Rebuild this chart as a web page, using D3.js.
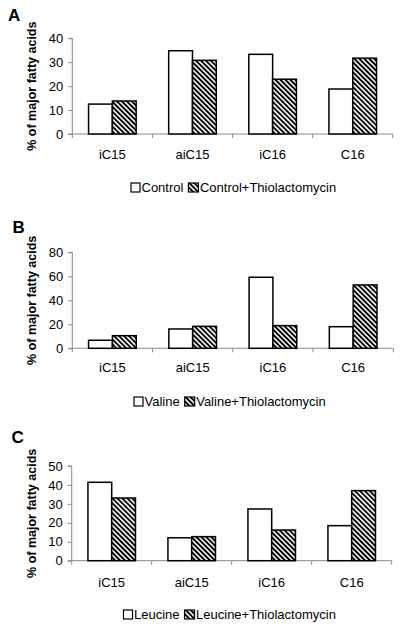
<!DOCTYPE html>
<html>
<head>
<meta charset="utf-8">
<script src="https://cdn.jsdelivr.net/npm/d3@7"></script>
<style>
  html, body { margin: 0; padding: 0; background: #fff; }
  svg { display: block; }
  text { font-family: "Liberation Sans", Arial, sans-serif; fill: #000; }
</style>
</head>
<body>
<svg id="chart" width="400" height="630"></svg>
<script>
// ---- data ----
const categories = ["iC15", "aiC15", "iC16", "C16"];

const panelA_control = [12.5, 34.8, 33.3, 18.8];
const panelA_thio    = [13.8, 30.8, 22.9, 31.7];
const panelA_series  = ["Control", "Control+Thiolactomycin"];
const panelA_ticks   = [0, 10, 20, 30, 40];

const panelB_valine  = [6.7, 16.1, 59.2, 18.0];
const panelB_thio    = [10.5, 18.3, 18.9, 52.8];
const panelB_series  = ["Valine", "Valine+Thiolactomycin"];
const panelB_ticks   = [0, 20, 40, 60, 80];

const panelC_leucine = [41.4, 12.1, 27.3, 18.5];
const panelC_thio    = [33.1, 12.7, 16.2, 37.0];
const panelC_series  = ["Leucine", "Leucine+Thiolactomycin"];
const panelC_ticks   = [0, 10, 20, 30, 40, 50];

const yLabel = "% of major fatty acids";

// ---- layout ----
const panels = [
  { letter: "A", lx: 8,  ly: 20.7, x0: 72.3, x1: 392.8, yBottom: 134,   yTop: 38.3,
    a: panelA_control, b: panelA_thio, names: panelA_series, ticks: panelA_ticks,
    catY: 159, legX: 131, legY: 192 },
  { letter: "B", lx: 12.5, ly: 232.7, x0: 72.3, x1: 393.3, yBottom: 348.3, yTop: 252.3,
    a: panelB_valine, b: panelB_thio, names: panelB_series, ticks: panelB_ticks,
    catY: 372.3, legX: 134, legY: 406 },
  { letter: "C", lx: 11.5, ly: 443, x0: 71.7, x1: 391.7, yBottom: 560.7, yTop: 466,
    a: panelC_leucine, b: panelC_thio, names: panelC_series, ticks: panelC_ticks,
    catY: 586.7, legX: 123.5, legY: 619 }
];

const svg = d3.select("#chart");
const axisColor = "#8a8a8a";

// hatch pattern
const defs = svg.append("defs");
const pat = defs.append("pattern")
  .attr("id", "hatch")
  .attr("patternUnits", "userSpaceOnUse")
  .attr("width", 3.5).attr("height", 3.5)
  .attr("patternTransform", "rotate(-45)");
pat.append("rect").attr("width", 3.5).attr("height", 3.5).attr("fill", "#fff");
pat.append("rect").attr("width", 1.9).attr("height", 3.5).attr("fill", "#000");

panels.forEach(p => {
  const g = svg.append("g");
  const yMax = p.ticks[p.ticks.length - 1];
  const y = d3.scaleLinear().domain([0, yMax]).range([p.yBottom, p.yTop]);
  const x = d3.scaleBand().domain(categories).range([p.x0, p.x1])
    .paddingInner(0.406).paddingOuter(0.203);
  const xs = d3.scaleBand().domain([0, 1]).range([0, x.bandwidth()]).padding(0);

  // panel letter
  g.append("text").attr("x", p.lx).attr("y", p.ly)
    .style("font-size", "17px").style("font-weight", "bold").text(p.letter);

  // y axis
  const yAxis = d3.axisLeft(y).tickValues(p.ticks).tickSize(4).tickPadding(5)
    .tickFormat(d3.format("d"));
  const ya = g.append("g").attr("transform", `translate(${p.x0},0)`).call(yAxis);
  ya.select(".domain").attr("stroke", axisColor).attr("stroke-width", 1)
    .attr("d", `M-4,${p.yTop}H0V${p.yBottom}H-4`);
  ya.selectAll(".tick line").attr("stroke", axisColor);
  ya.selectAll(".tick text").style("font-size", "13px")
    .style("font-family", '"Liberation Sans", Arial, sans-serif').attr("fill", "#000");

  // x axis: line with ticks at band boundaries
  const bounds = categories.map(c => x(c) - x.step() * x.paddingInner() / 2)
    .concat([p.x1]);
  g.append("line").attr("x1", p.x0).attr("x2", p.x1)
    .attr("y1", p.yBottom).attr("y2", p.yBottom)
    .attr("stroke", axisColor).attr("stroke-width", 1);
  g.selectAll(".xt").data(bounds).enter().append("line")
    .attr("x1", d => d).attr("x2", d => d)
    .attr("y1", p.yBottom).attr("y2", p.yBottom + 4)
    .attr("stroke", axisColor).attr("stroke-width", 1);

  // category labels
  g.selectAll(".cat").data(categories).enter().append("text")
    .attr("x", d => x(d) + x.bandwidth() / 2).attr("y", p.catY)
    .attr("text-anchor", "middle").style("font-size", "13px").text(d => d);

  // bars
  const rows = categories.map((c, i) => ({ c, vals: [p.a[i], p.b[i]] }));
  const grp = g.selectAll(".grp").data(rows).enter().append("g")
    .attr("transform", d => `translate(${x(d.c)},0)`);
  grp.selectAll("rect").data(d => d.vals.map((v, k) => ({ v, k }))).enter().append("rect")
    .attr("x", d => xs(d.k)).attr("width", xs.bandwidth())
    .attr("y", d => y(d.v)).attr("height", d => y(0) - y(d.v))
    .attr("fill", d => d.k === 0 ? "#fff" : "url(#hatch)")
    .attr("stroke", "#000").attr("stroke-width", 1.5);

  // y label
  g.append("text")
    .attr("transform", `translate(35.5,${(p.yTop + p.yBottom) / 2}) rotate(-90)`)
    .attr("text-anchor", "middle").style("font-size", "12.5px").style("font-weight", "bold")
    .text(yLabel);

  // legend
  const lg = g.append("g");
  let cx = p.legX;
  lg.append("rect").attr("x", cx).attr("y", p.legY - 9).attr("width", 9).attr("height", 9)
    .attr("fill", "#fff").attr("stroke", "#000").attr("stroke-width", 1.2);
  cx += 10.5;
  const t1 = lg.append("text").attr("x", cx).attr("y", p.legY).style("font-size", "13px").text(p.names[0]);
  cx += t1.node().getComputedTextLength() + 5;
  lg.append("rect").attr("x", cx).attr("y", p.legY - 9).attr("width", 10).attr("height", 9)
    .attr("fill", "url(#hatch)").attr("stroke", "#000").attr("stroke-width", 1.2);
  cx += 11.5;
  lg.append("text").attr("x", cx).attr("y", p.legY).style("font-size", "13px").text(p.names[1]);
});
</script>
</body>
</html>
